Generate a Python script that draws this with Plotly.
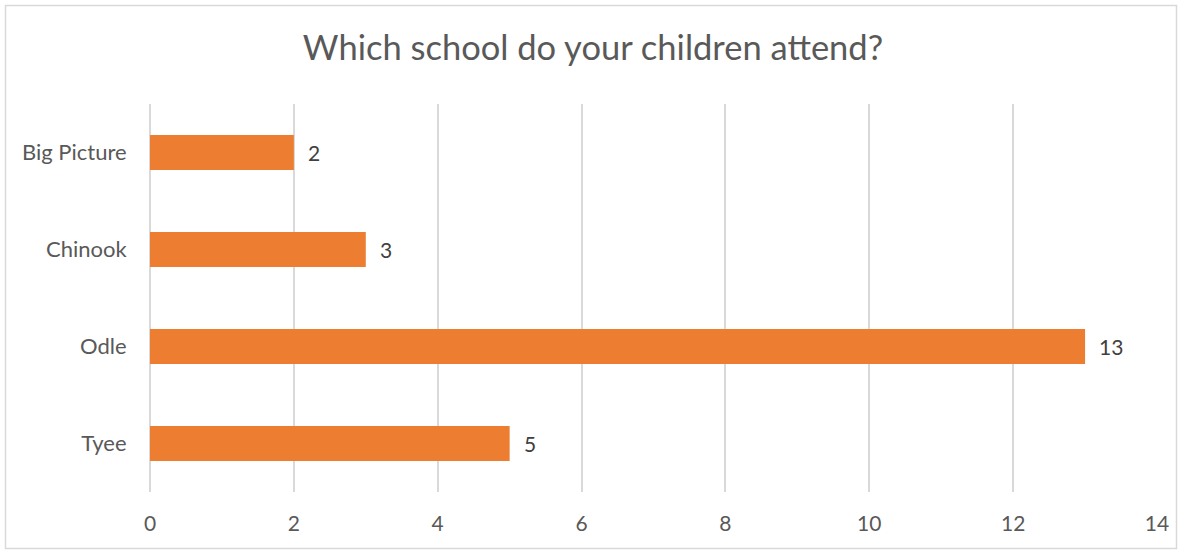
import plotly.graph_objects as go

schools = ["Big Picture", "Chinook", "Odle", "Tyee"]
counts = [2, 3, 13, 5]
x_ticks = [0, 2, 4, 6, 8, 10, 12, 14]

W, H = 1186, 553
L, R, T, B = 150, 29, 104, 61
pw, ph = W - L - R, H - T - B
FONT = "Lato"

fig = go.Figure(go.Bar(
    y=schools, x=counts, orientation="h",
    marker=dict(color="#ED7D31", line=dict(width=0)),
    width=0.36,
    hoverinfo="x+y",
))

for s, c in zip(schools, counts):
    fig.add_annotation(x=c, y=s, xref="x", yref="y", text=str(c),
                       showarrow=False, xanchor="left", yanchor="middle",
                       xshift=12,
                       font=dict(family=FONT, size=21, color="#404040"))

fig.update_layout(
    width=W, height=H,
    margin=dict(l=L, r=R, t=T, b=B),
    paper_bgcolor="white", plot_bgcolor="white",
    title=dict(text="Which school do your children attend?",
               font=dict(family=FONT, size=34.5, color="#595959"),
               x=0.5, xanchor="center", y=1 - 48 / H, yanchor="middle"),
    showlegend=False,
    shapes=[dict(type="rect", xref="paper", yref="paper",
                 x0=(5.5 - L) / pw, x1=(1176.5 - L) / pw,
                 y0=-(548.5 - (H - B)) / ph, y1=1 + (T - 5.5) / ph,
                 line=dict(color="#D9D9D9", width=1.5), layer="below")],
)
fig.update_xaxes(range=[0, 14], tickvals=x_ticks, showgrid=True,
                 gridcolor="#D9D9D9", gridwidth=1.5, zeroline=True,
                 zerolinecolor="#D9D9D9", zerolinewidth=1.5, showline=False,
                 ticks="outside", ticklen=13, tickcolor="rgba(0,0,0,0)",
                 tickfont=dict(family=FONT, size=21, color="#595959"))
fig.update_yaxes(categoryorder="array", categoryarray=schools[::-1],
                 showgrid=False, showline=False, zeroline=False,
                 ticks="outside", ticklen=18, tickcolor="rgba(0,0,0,0)",
                 tickfont=dict(family=FONT, size=22, color="#595959"))

fig.write_html("out.html", config={"displayModeBar": False},
               post_script="document.body.style.margin='0';")
